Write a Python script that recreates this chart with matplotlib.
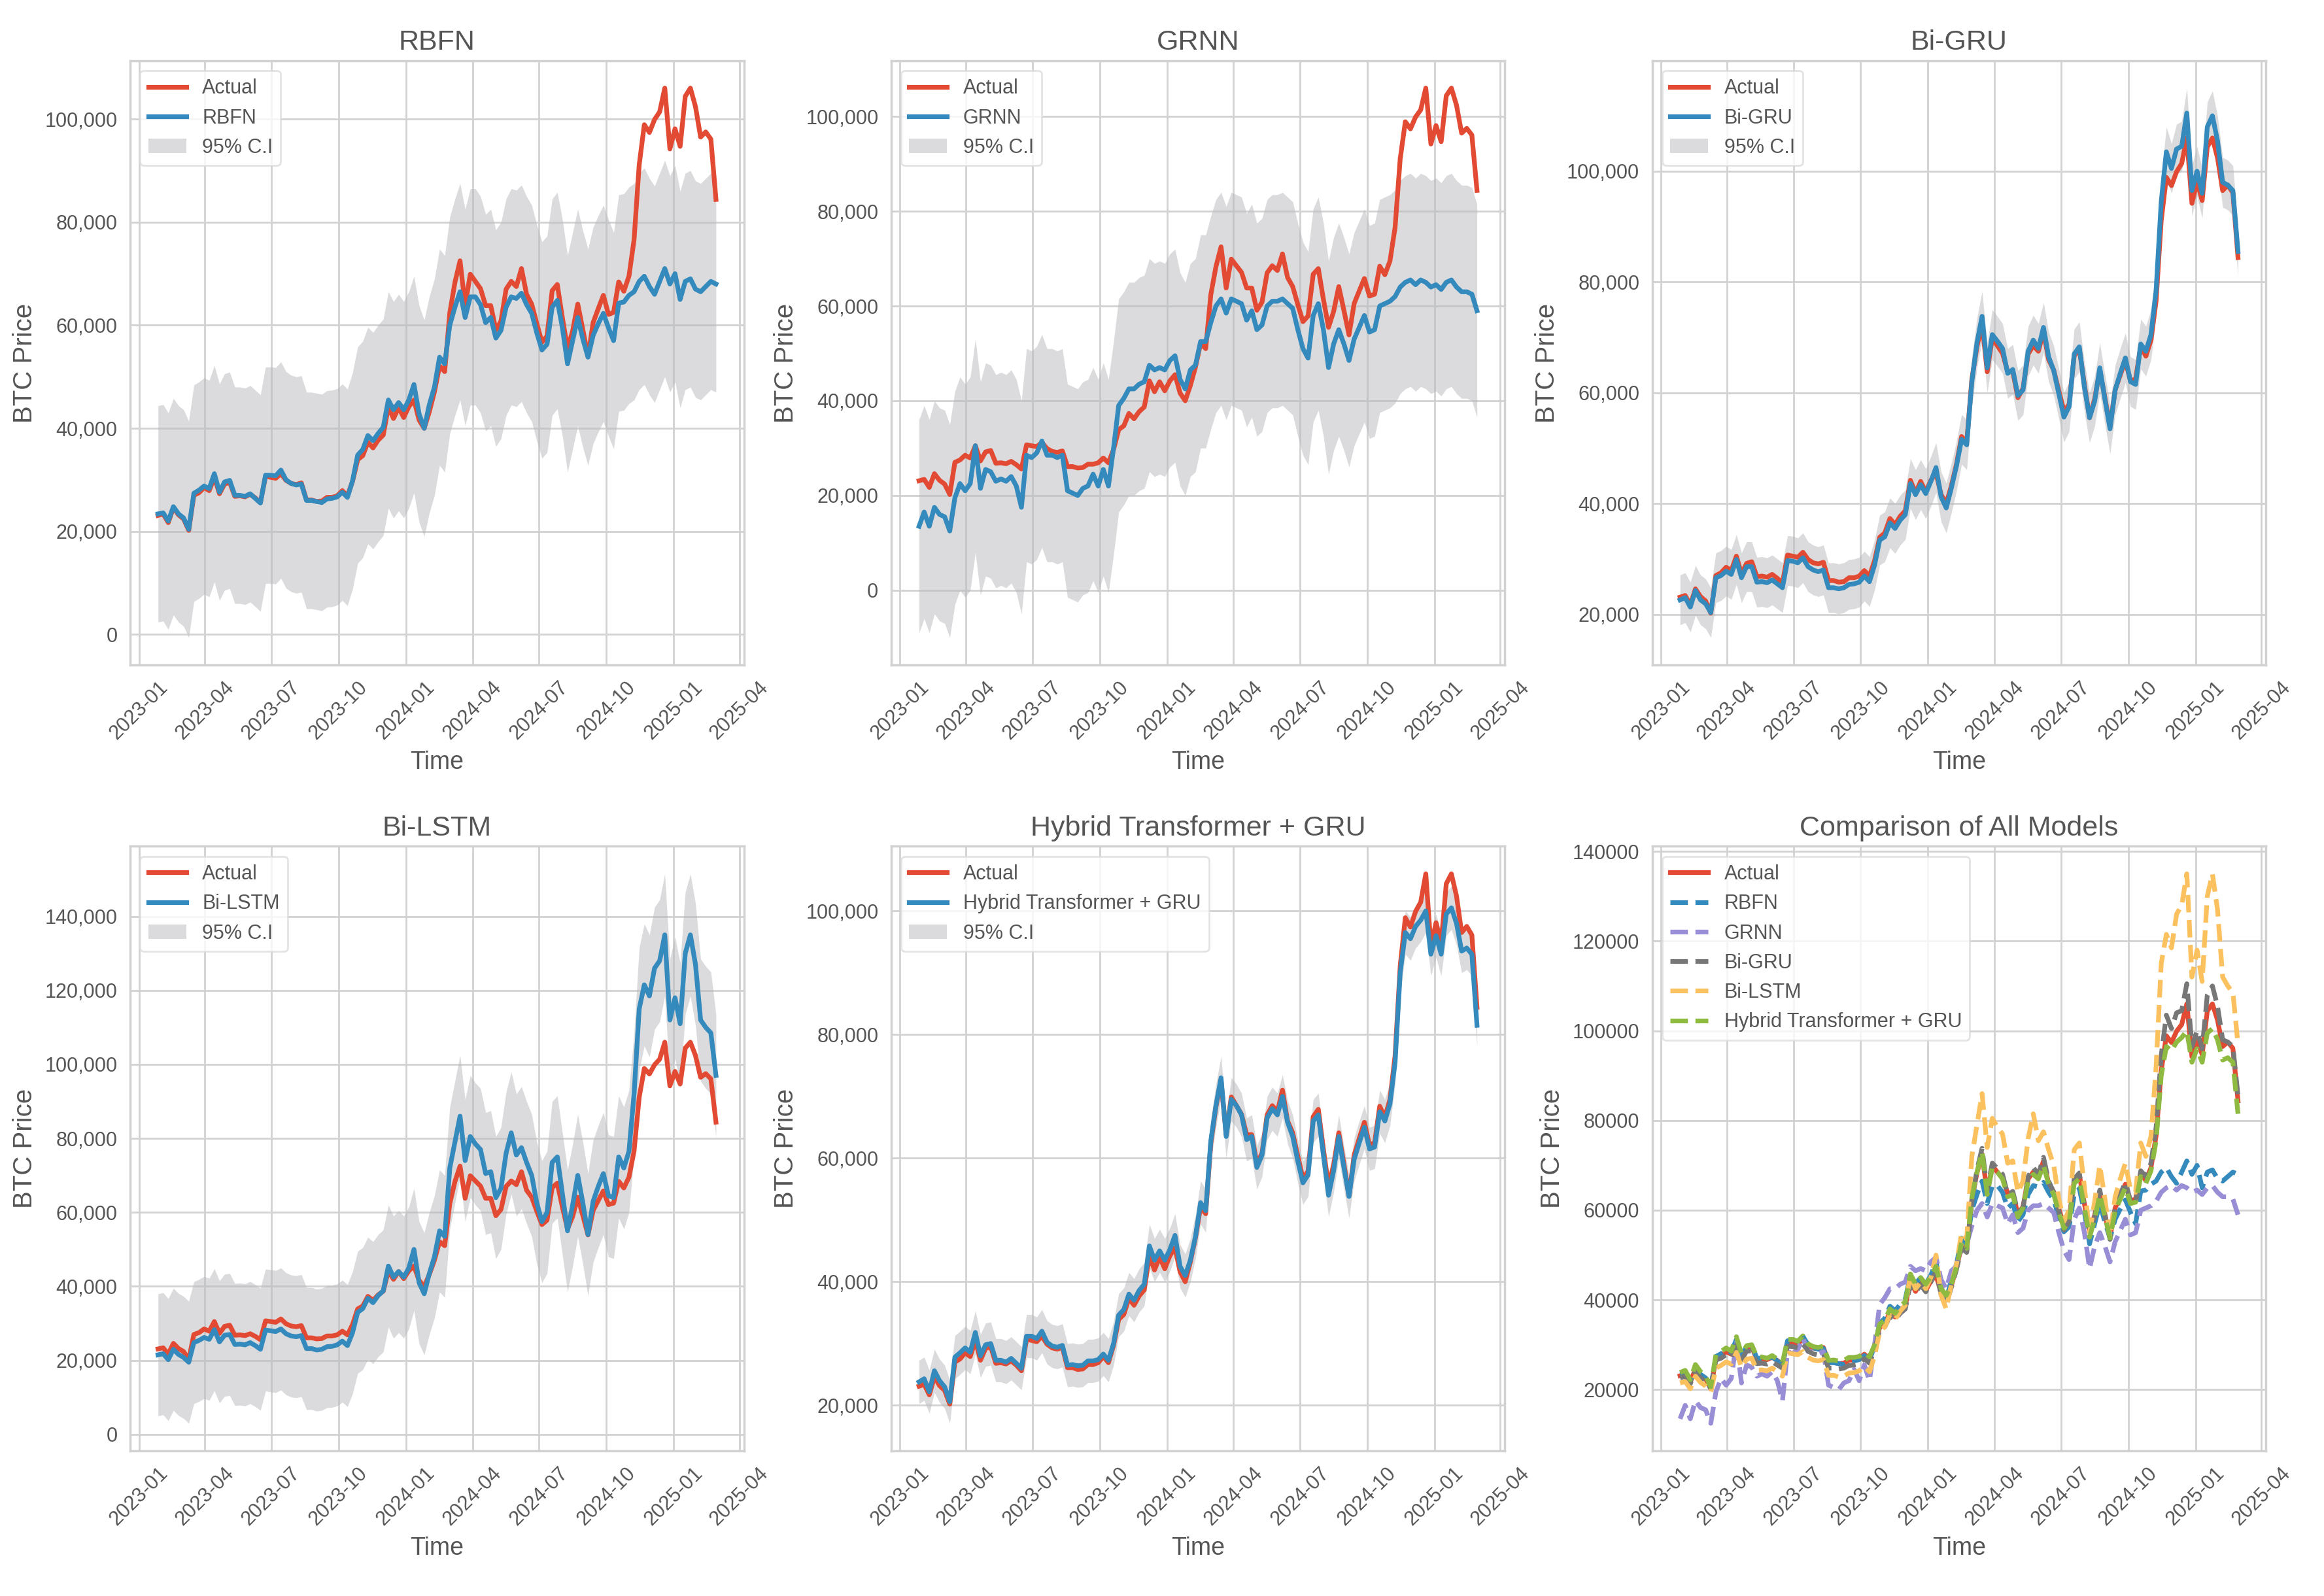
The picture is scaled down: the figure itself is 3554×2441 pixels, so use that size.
import numpy as np
import pandas as pd
import matplotlib
matplotlib.use("Agg")
import matplotlib.pyplot as plt
import matplotlib.dates as mdates
from matplotlib.ticker import FuncFormatter

# weekly samples (Fridays), prices in thousands of USD
dates = pd.date_range("2023-01-27", "2025-02-28", freq="7D")

actual_k = [
    23.1,
    23.4, 21.7, 24.6, 23.2,
    22.4, 20.2, 27.0, 27.5, 28.5,
    27.9, 30.5, 27.3, 29.2,
    29.5, 26.8, 26.9, 26.7,
    27.2, 26.5, 25.6, 30.7, 30.5,
    30.3, 31.2, 29.9, 29.3,
    29.1, 29.4, 26.1, 26.1,
    25.8, 25.9, 26.6, 26.6, 26.9,
    27.9, 26.9, 29.7, 33.9,
    34.7, 37.3, 36.2, 37.7,
    38.7, 44.2, 41.9, 44.0, 42.1,
    # 2024
    44.2, 45.5, 41.6, 40.0,
    43.2, 47.1, 52.1, 51.0,
    62.4, 68.3, 72.5, 63.8, 69.9,
    68.5, 67.1, 63.8, 63.8,
    59.1, 60.8, 67.0, 68.5, 67.5,
    71.0, 66.0, 64.1, 60.3,
    56.7, 57.9, 66.7, 67.9,
    61.4, 55.5, 58.9, 64.1, 59.1,
    53.9, 60.5, 63.2, 65.8,
    62.1, 62.5, 68.4, 66.6,
    69.5, 76.6, 91.1, 98.9, 97.4,
    99.9, 101.4, 106.0, 94.2,
    # 2025
    98.1, 94.7, 104.4, 106.0, 102.4,
    96.5, 97.5, 96.1, 84.4,
]

rbfn_k = [
    23.4,
    23.6, 22.0, 24.8, 23.4,
    22.6, 20.4, 27.4, 28.0, 28.8,
    28.3, 31.2, 27.6, 29.6,
    29.9, 27.0, 27.0, 26.8,
    27.3, 26.4, 25.5, 30.9, 30.9,
    30.8, 31.9, 30.0, 29.3,
    29.0, 29.2, 26.0, 26.0,
    25.8, 25.6, 26.3, 26.4, 26.7,
    27.6, 26.6, 29.8, 34.8,
    35.9, 38.6, 37.6, 39.0,
    40.2, 45.5, 43.6, 45.0, 43.6,
    45.5, 48.5, 42.8, 40.0,
    44.6, 48.0, 53.8, 52.5,
    60.0, 63.5, 66.5, 61.5, 65.5,
    65.5, 64.0, 60.5, 61.5,
    57.5, 59.0, 63.5, 65.5, 65.2,
    66.2, 64.0, 62.3, 58.5,
    55.2, 56.3, 63.5, 64.8,
    59.5, 52.5, 57.0, 61.5, 57.3,
    53.8, 58.0, 60.3, 62.3,
    59.5, 57.0, 64.3, 64.5,
    65.8, 66.5, 68.5, 69.5, 67.5,
    66.0, 68.5, 71.0, 68.0,
    70.0, 65.0, 68.5, 69.0, 67.0,
    66.5, 67.5, 68.5, 68.0,
]

grnn_k = [
    13.5,
    16.5, 13.5, 17.5, 16.0,
    15.5, 12.5, 19.5, 22.5, 21.0,
    22.5, 30.5, 21.5, 25.5,
    25.0, 23.0, 23.5, 23.0,
    24.0, 22.0, 17.5, 28.5, 28.0,
    29.0, 31.5, 28.5, 28.5,
    28.0, 28.5, 21.0, 20.5,
    20.0, 21.5, 22.0, 24.5, 22.0,
    25.5, 22.0, 30.0, 39.0,
    40.5, 42.5, 42.5, 43.5,
    44.0, 47.5, 46.5, 47.0, 46.5,
    48.5, 49.5, 44.5, 42.5,
    46.5, 47.5, 52.5, 52.5,
    56.5, 60.0, 61.5, 58.5, 61.5,
    61.0, 60.5, 57.0, 59.0,
    55.0, 56.0, 60.0, 61.0, 61.0,
    61.5, 60.5, 59.5, 55.0,
    51.0, 49.0, 58.0, 60.5,
    55.0, 47.0, 52.0, 55.0, 52.0,
    48.5, 53.0, 55.5, 58.0,
    54.5, 55.0, 60.0, 60.5,
    61.0, 62.0, 64.0, 65.0, 65.5,
    64.5, 65.5, 65.0, 64.0,
    64.5, 63.5, 65.0, 65.5, 64.0,
    63.0, 63.0, 62.5, 59.0,
]

bigru_k = [
    22.6,
    23.0, 21.3, 24.3, 22.6,
    21.9, 20.3, 26.6, 27.0, 27.8,
    27.2, 29.9, 26.6, 28.6,
    28.6, 25.8, 25.9, 25.7,
    26.2, 25.5, 24.8, 29.7, 29.6,
    29.3, 30.2, 28.6, 28.0,
    27.7, 28.0, 24.8, 24.8,
    24.6, 24.8, 25.4, 25.5, 25.8,
    26.9, 25.9, 28.9, 33.4,
    34.0, 36.5, 35.5, 37.0,
    38.0, 43.6, 41.6, 43.4, 41.8,
    44.0, 46.5, 41.2, 39.2,
    42.8, 46.8, 51.6, 50.6,
    62.0, 69.0, 73.8, 64.5, 70.5,
    69.3, 68.0, 63.5, 64.2,
    59.5, 60.5, 67.5, 69.5, 68.0,
    71.8, 66.5, 64.0, 59.8,
    55.6, 57.5, 67.0, 68.3,
    61.0, 55.5, 58.5, 64.5, 58.8,
    53.5, 60.5, 63.5, 66.3,
    62.0, 61.5, 68.8, 67.5,
    70.5, 78.5, 94.5, 103.5, 100.5,
    104.0, 104.5, 110.5, 96.5,
    100.0, 96.0, 108.0, 110.0, 105.5,
    98.0, 97.5, 96.5, 85.5,
]

bilstm_k = [
    21.5,
    21.8, 20.2, 23.0, 21.6,
    20.8, 19.5, 24.8, 25.4, 26.2,
    25.7, 28.3, 25.0, 26.8,
    27.0, 24.3, 24.4, 24.2,
    24.8, 24.0, 23.0, 28.2, 28.0,
    27.8, 28.5, 27.2, 26.6,
    26.4, 26.7, 23.2, 23.2,
    22.8, 23.0, 23.7, 23.8, 24.2,
    25.2, 24.0, 27.5, 33.0,
    34.0, 36.8, 35.6, 37.5,
    38.8, 45.5, 42.5, 44.0, 42.5,
    45.0, 50.0, 41.0, 38.0,
    43.5, 48.0, 55.0, 53.5,
    72.0, 79.0, 86.0, 74.0, 80.5,
    78.5, 77.0, 70.5, 71.0,
    64.0, 66.5, 76.0, 81.5, 75.5,
    77.5, 73.5, 70.0, 62.5,
    57.5, 60.0, 73.5, 75.0,
    65.0, 55.0, 62.0, 70.0, 62.5,
    54.0, 63.0, 67.0, 70.5,
    64.5, 64.0, 75.0, 72.0,
    76.5, 92.0, 115.0, 121.5, 118.5,
    126.0, 128.0, 135.0, 112.0,
    118.0, 111.0, 130.0, 135.0, 127.0,
    112.0, 110.0, 108.5, 97.0,
]

hybrid_k = [
    23.8,
    24.3, 22.2, 25.6, 24.0,
    23.0, 20.6, 27.8, 28.5, 29.3,
    28.6, 31.8, 28.0, 29.8,
    30.0, 27.3, 27.3, 27.0,
    27.6, 26.8, 26.0, 31.2, 31.2,
    30.8, 32.0, 30.2, 29.6,
    29.4, 29.7, 26.5, 26.6,
    26.4, 26.5, 27.2, 27.2, 27.4,
    28.3, 27.3, 30.0, 34.6,
    35.5, 38.0, 37.0, 38.6,
    39.6, 45.8, 43.5, 45.0, 43.5,
    45.2, 47.5, 42.5, 41.0,
    43.5, 47.3, 52.8, 51.5,
    62.8, 68.5, 73.0, 63.5, 69.5,
    68.5, 67.0, 63.0, 63.5,
    58.5, 60.5, 66.5, 68.0, 67.0,
    70.0, 65.8, 63.5, 59.5,
    56.0, 57.3, 66.0, 67.0,
    60.5, 54.0, 58.0, 63.5, 58.5,
    53.8, 59.8, 62.5, 65.0,
    61.5, 61.8, 67.5, 66.0,
    68.8, 75.5, 90.0, 96.5, 95.5,
    97.5, 98.5, 100.0, 93.0,
    96.0, 93.0, 99.5, 100.5, 98.0,
    93.5, 94.0, 93.0, 81.5,
]

model_names = ["RBFN", "GRNN", "Bi-GRU", "Bi-LSTM", "Hybrid Transformer + GRU"]
model_preds_k = [rbfn_k, grnn_k, bigru_k, bilstm_k, hybrid_k]
# half width of the 95% interval per model (thousands)
ci_half_k = [21.0, 22.5, 4.5, 16.5, 3.5]

RED = "#E24A33"
BLUE = "#348ABD"
CMP_COLORS = ["#348ABD", "#988ED5", "#777777", "#FBC15E", "#8EBA42"]
TXT = "#555555"

plt.rcParams.update({
    "font.family": ["Liberation Sans", "DejaVu Sans"],
    "axes.edgecolor": "#d2d2d2",
    "axes.linewidth": 1.25,
    "axes.grid": True,
    "axes.axisbelow": True,
    "grid.color": "#d2d2d2",
    "grid.linewidth": 1.0,
    "xtick.major.size": 0,
    "ytick.major.size": 0,
    "xtick.major.pad": 7,
    "ytick.major.pad": 7,
    "text.color": TXT,
    "axes.labelcolor": TXT,
    "xtick.color": TXT,
    "ytick.color": TXT,
    "xtick.labelsize": 11,
    "ytick.labelsize": 11,
    "legend.fontsize": 11,
})

actual = np.array(actual_k) * 1000


def style_axis(ax, title, comma=True):
    ax.set_title(title, fontsize=15.5, color=TXT)
    ax.set_xlabel("Time", fontsize=13.5)
    ax.set_ylabel("BTC Price", fontsize=14.5)
    ax.xaxis.set_major_locator(mdates.MonthLocator(bymonth=[1, 4, 7, 10]))
    ax.xaxis.set_major_formatter(mdates.DateFormatter("%Y-%m"))
    ax.tick_params(axis="x", labelrotation=45)
    if comma:
        ax.yaxis.set_major_formatter(FuncFormatter(lambda v, p: f"{v:,.0f}"))
    ax.legend(loc="upper left", handlelength=1.9, frameon=True, edgecolor="#dddddd")


fig, axes = plt.subplots(2, 3, figsize=(17.77, 12.205))
fig.subplots_adjust(left=0.056, right=0.975, bottom=0.091, top=0.962, wspace=0.24, hspace=0.30)
flat = axes.ravel()

for i, name in enumerate(model_names):
    ax = flat[i]
    pred = np.array(model_preds_k[i]) * 1000
    half = ci_half_k[i] * 1000
    ax.plot(dates, actual, color=RED, lw=2.6, label="Actual", zorder=3)
    ax.plot(dates, pred, color=BLUE, lw=2.6, label=name, zorder=4)
    ax.fill_between(dates, pred - half, pred + half, color="#b8b9bc", alpha=0.5,
                    lw=0, label="95% C.I", zorder=2)
    style_axis(ax, name)

# comparison panel
ax = flat[5]
ax.plot(dates, actual, color=RED, lw=2.6, label="Actual")
for name, vals, col in zip(model_names, model_preds_k, CMP_COLORS):
    ax.plot(dates, np.array(vals) * 1000, color=col, lw=2.6, ls="--", label=name)
style_axis(ax, "Comparison of All Models", comma=False)

fig.savefig("out.png", dpi=200)
